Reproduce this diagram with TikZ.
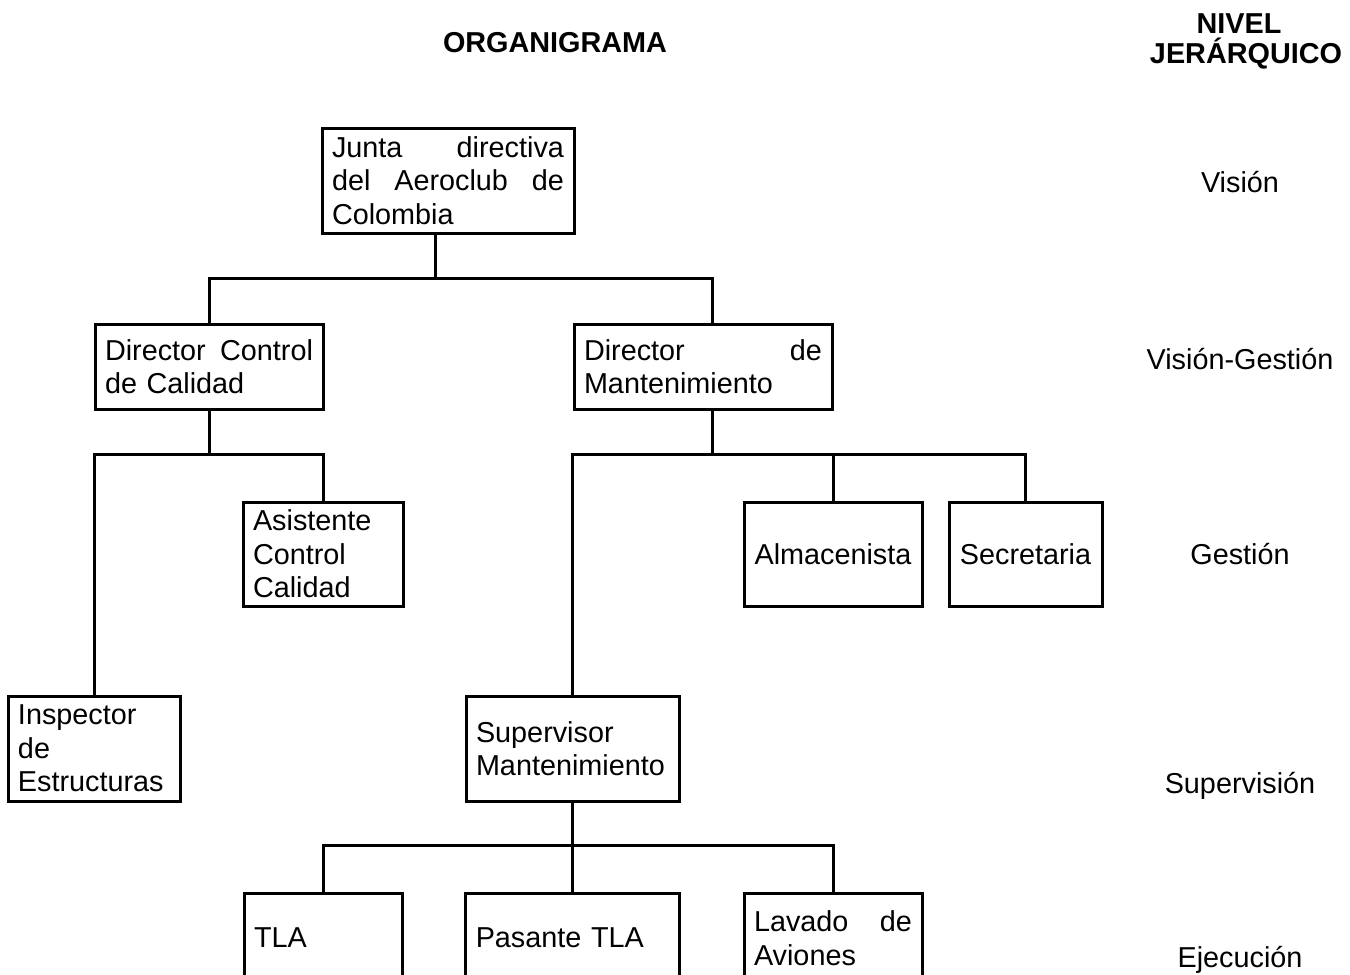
\documentclass[tikz,border=0pt]{standalone}
\usepackage{fontspec}
\setmainfont{Liberation Sans}
\tikzstyle{caja}=[draw, line width=1.5pt, inner xsep=5pt, inner ysep=0pt, align=left]
\tikzstyle{linea}=[line width=1.5pt]
\tikzstyle{nivel}=[anchor=base, inner sep=0pt]

\begin{document}
\begin{tikzpicture}[x=0.5pt, y=-0.5pt, font=\fontsize{14.4pt}{16.75pt}\selectfont]
	\useasboundingbox (0,0) rectangle (1350,975);
	\clip (0,0) rectangle (1350,975);
	\node[nivel] (titulo) at (555,52) {\bfseries ORGANIGRAMA};
	\node[nivel] (niv) at (1239,33) {\bfseries NIVEL};
	\node[nivel] (jer) at (1246,63) {\bfseries JERÁRQUICO};
	\node[nivel] (n1) at (1240,192) {Visión};
	\node[nivel] (n2) at (1240,369) {Visión-Gestión};
	\node[nivel] (n3) at (1240,564) {Gestión};
	\node[nivel] (n4) at (1240,793) {Supervisión};
	\node[nivel] (n5) at (1240,967) {Ejecución};
	\node[caja, text width=116pt, minimum height=52.5pt] (junta) at (448,180.5) {Junta\hfill directiva\\ del\hfill Aeroclub\hfill de\\ Colombia};
	\node[caja, text width=104pt, minimum height=42.5pt] (dcc) at (209,366.5) {Director\hfill Control\\ de Calidad};
	\node[caja, text width=119pt, minimum height=42.5pt] (dm) at (703,366.5) {Director\hfill de\\ Mantenimiento};
	\node[caja, text width=70pt, minimum height=52pt] (asist) at (323,554) {Asistente\\ Control\\ Calidad};
	\node[caja, text width=79pt, minimum height=52pt, align=center] (alm) at (833,554) {Almacenista};
	\node[caja, text width=66.5pt, minimum height=52pt, align=center] (secr) at (1025.5,554) {Secretaria};
	\node[caja, text width=76pt, minimum height=52.5pt] (insp) at (94,748.5) {Inspector\\ de\\ Estructuras};
	\node[caja, text width=96.5pt, minimum height=52.5pt] (sup) at (572.5,748.5) {Supervisor\\ Mantenimiento};
	\node[caja, text width=69pt, minimum height=45pt] (tla) at (323,938) {TLA};
	\node[caja, text width=97pt, minimum height=45pt] (pas) at (572.75,938) {Pasante TLA};
	\node[caja, text width=79pt, minimum height=45pt] (lav) at (833,938) {Lavado\hfill de\\ Aviones};
	\coordinate (b1) at (435,278);
	\coordinate (d1) at (712,278);
	\coordinate (b2) at (0,454);
	\coordinate (b3) at (0,845);
	\draw[linea] (junta.south -| b1) -- (b1);
	\draw[linea] (dcc.north) |- (d1) -- (dm.north -| d1);
	\draw[linea] (dcc.south) -- (b2 -| dcc.south);
	\draw[linea] (insp.north) |- (b2 -| asist.north) -- (asist.north);
	\draw[linea] (dm.south -| d1) -- (b2 -| d1);
	\draw[linea] (sup.north) |- (b2 -| secr.north) -- (secr.north);
	\draw[linea] (alm.north) -- (b2 -| alm.north);
	\draw[linea] (sup.south) -- (b3 -| sup.south);
	\draw[linea] (tla.north) |- (b3 -| lav.north) -- (lav.north);
	\draw[linea] (pas.north) -- (b3 -| pas.north);
\end{tikzpicture}
\end{document}
